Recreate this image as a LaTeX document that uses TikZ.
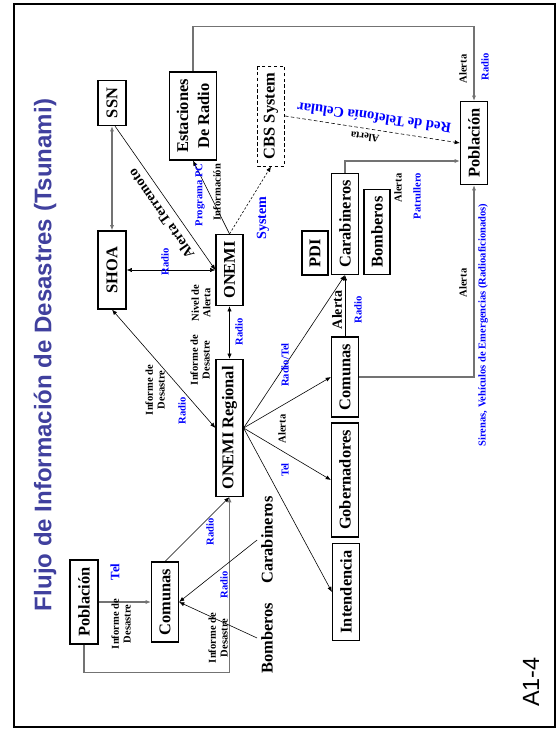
\documentclass[tikz,border=0pt]{standalone}
\usepackage{fontspec}
\setmainfont{Liberation Serif}
\setsansfont{Liberation Sans}
\usetikzlibrary{arrows.meta}
\definecolor{TitleClr}{rgb}{0.25,0.25,0.62}
\definecolor{LinkClr}{rgb}{0,0,1}
\definecolor{WireClr}{gray}{0.45}

\begin{document}
\begin{tikzpicture}[x=0.03cm,y=-0.03cm,
  >={Latex[length=4.5pt,width=3.6pt]},
  entity/.style 2 args={draw,line width=1pt,rotate=90,inner sep=0pt,
    minimum width=#1*0.03cm,minimum height=#2*0.03cm,align=center,
    font=\fontsize{14}{15}\selectfont\bfseries},
  lbl/.style={rotate=90,inner sep=0pt,align=center,
    font=\fontsize{9}{10}\selectfont\bfseries},
  via/.style={lbl,text=LinkClr},
  wire/.style={line width=0.5pt},
  trunk/.style={line width=0.9pt,draw=WireClr}]
\useasboundingbox (0,0) rectangle (558,729);
\draw[line width=2.5pt] (14,4) rectangle (555,727);

% Title and sheet number
\node[rotate=90,text=TitleClr,font=\sffamily\bfseries\fontsize{20.5}{24}\selectfont] (title) at (45,355)
  {Flujo de Información de Desastres (Tsunami)};
\node[rotate=90,font=\sffamily\fontsize{20}{24}\selectfont] (sheet) at (531,682) {A1-4};

% Institutions
\node[entity={45}{28}] (ssn) at (112,103) {SSN};
\node[entity={78}{28}] (shoa) at (112,270) {SHOA};
\node[entity={88}{47},font=\fontsize{14}{18}\selectfont\bfseries] (est) at (193,116) {Estaciones\\De Radio};
\node[entity={100}{27},line width=0.8pt,dash pattern=on 3pt off 2pt] (cbs) at (271,116) {CBS System};
\node[entity={71}{27}] (onemi) at (229.5,270) {ONEMI};
\node[entity={137}{27}] (onemireg) at (229.5,428) {ONEMI Regional};
\node[entity={83}{27}] (pob) at (474,143) {Población};
\node[entity={44}{26}] (pdi) at (315,253) {PDI};
\node[entity={101}{27}] (carab) at (345,224) {Carabineros};
\node[entity={85}{26}] (bomb) at (377,232) {Bomberos};
\node[entity={80}{27}] (comr) at (345,377) {Comunas};
\node[entity={114}{27}] (gob) at (345,480) {Gobernadores};
\node[entity={97}{27}] (inten) at (346,592) {Intendencia};
\node[entity={84}{28}] (pobl) at (84,602) {Población};
\node[entity={80}{27}] (coml) at (165,602) {Comunas};
\node[rotate=90,font=\fontsize{14}{15}\selectfont\bfseries] (carabtxt) at (267,540) {Carabineros};
\node[rotate=90,font=\fontsize{14}{15}\selectfont\bfseries] (bombtxt) at (267,638) {Bomberos};

% Links
\draw[trunk,<->] (ssn.west) -- (shoa.east);
\draw[wire,->] ([xshift=0.09cm]ssn.west) -- (onemi.north);
\draw[wire,<->] (shoa.south) -- (onemi.north);
\draw[wire,<->] (onemi.west) -- (onemireg.east);
\draw[wire,<->] (shoa.west) -- (onemireg.north);
\draw[wire,->] (onemi.east) -- (est.west);
\draw[wire,->,dash pattern=on 2pt off 1.5pt] (onemi.east) -- (cbs.west);
\draw[trunk,->] (est.east) -- ++(0,-45) -| (pob.east);
\draw[wire,->,dash pattern=on 3pt off 2pt] (cbs.south) -- (pob.north);
\draw[trunk,->] (carab.east) |- ([yshift=-0.54cm]pob.north);
\draw[wire,->] (comr.east) -- (carab.west);
\draw[trunk,->] (comr.south) -| (pob.west);
\foreach \dst in {carab.west,comr.north,gob.north,inten.north}
  \draw[wire,->] (onemireg.south) -- (\dst);
\draw[trunk,->] (pobl.south) -- (coml.north);
\draw[trunk,->] (pobl.west) -- ++(0,28) -| (onemireg.west);
\draw[wire,->] (coml.east) -- (onemireg.west);
\draw[wire,->] (carabtxt.north) -- (coml.south);
\draw[wire,->] (bombtxt.north) -- (coml.south);

% Labels on the links
\node[lbl] (l1) at (463,69) {Alerta};
\node[via] (l2) at (485,67) {Radio};
\node[lbl,rotate=172-90,text=LinkClr,font=\fontsize{12.5}{14}\selectfont\bfseries] (l3) at (374,118) {Red de Telefonía Celular};
\node[lbl,rotate=172-90] (l4) at (365,137) {Alerta};
\node[via,font=\fontsize{12}{14}\selectfont\bfseries] (l5) at (263,218) {System};
\node[via] (l6) at (200,195) {Programa PC};
\node[lbl] (l7) at (217,192) {Información};
\node[lbl,rotate=124.8-90,font=\fontsize{12}{14}\selectfont\bfseries] (l8) at (161,214) {Alerta Terremoto};
\node[via] (l9) at (165,262) {Radio};
\node[lbl] (l10) at (201,303) {Nivel de\\Alerta};
\node[lbl] (l11) at (200,360) {Informe de\\Desastre};
\node[via] (l12) at (239,332) {Radio};
\node[lbl] (l13) at (155,390) {Informe de\\Desastre};
\node[via] (l14) at (182,411) {Radio};
\node[via] (l15) at (285,365) {Radio/Tel};
\node[lbl] (l16) at (282,429) {Alerta};
\node[via] (l17) at (285,470) {Tel};
\node[lbl,font=\fontsize{12}{14}\selectfont\bfseries] (l18) at (337,310) {Alerta};
\node[via] (l19) at (358,310) {Radio};
\node[lbl] (l20) at (463,283) {Alerta};
\node[via] (l21) at (483,325) {Sirenas, Vehículos de Emergencias (Radioaficionados)};
\node[lbl] (l22) at (398,188) {Alerta};
\node[via] (l23) at (417,196) {Patrullero};
\node[lbl] (l24) at (121,624) {Informe de\\Desastre};
\node[via,font=\fontsize{11}{12}\selectfont\bfseries] (l25) at (115,572) {Tel};
\node[lbl] (l26) at (218,638) {Informe de\\Desastre};
\node[via] (l27) at (224,585) {Radio};
\node[via] (l28) at (210,532) {Radio};

\end{tikzpicture}
\end{document}
